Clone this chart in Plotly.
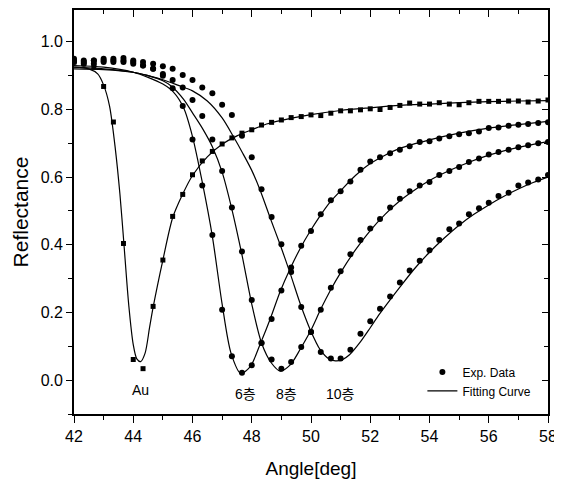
import plotly.graph_objects as go

# ---------------- data ----------------
angle_exp = [42.00, 42.33, 42.67, 43.00, 43.33, 43.67, 44.00, 44.33, 44.67, 45.00,
             45.33, 45.67, 46.00, 46.33, 46.67, 47.00, 47.33, 47.67, 48.00, 48.33,
             48.67, 49.00, 49.33, 49.67, 50.00, 50.33, 50.67, 51.00, 51.33, 51.67,
             52.00, 52.33, 52.67, 53.00, 53.33, 53.67, 54.00, 54.33, 54.67, 55.00,
             55.33, 55.67, 56.00, 56.33, 56.67, 57.00, 57.33, 57.67, 58.00]

au_exp = [0.940, 0.935, 0.925, 0.868, 0.763, 0.404, 0.061, 0.034, 0.218, 0.355,
          0.484, 0.549, 0.607, 0.648, 0.676, 0.698, 0.716, 0.730, 0.740, 0.754,
          0.762, 0.769, 0.776, 0.779, 0.784, 0.782, 0.789, 0.796, 0.796, 0.799,
          0.802, 0.800, 0.806, 0.812, 0.819, 0.816, 0.816, 0.820, 0.816, 0.814,
          0.820, 0.824, 0.824, 0.824, 0.825, 0.825, 0.822, 0.825, 0.828]

l6_exp = [0.945, 0.940, 0.945, 0.945, 0.945, 0.945, 0.940, 0.930, 0.920, 0.900,
          0.863, 0.810, 0.711, 0.575, 0.429, 0.208, 0.071, 0.022, 0.044, 0.110,
          0.181, 0.265, 0.320, 0.397, 0.441, 0.490, 0.532, 0.558, 0.587, 0.622,
          0.646, 0.659, 0.671, 0.681, 0.691, 0.704, 0.706, 0.714, 0.721, 0.727,
          0.730, 0.735, 0.745, 0.747, 0.752, 0.755, 0.757, 0.760, 0.762]

l8_exp = [0.940, 0.935, 0.935, 0.940, 0.940, 0.940, 0.935, 0.930, 0.920, 0.905,
          0.887, 0.865, 0.828, 0.781, 0.711, 0.618, 0.510, 0.380, 0.237, 0.110,
          0.061, 0.034, 0.054, 0.098, 0.142, 0.208, 0.273, 0.322, 0.372, 0.414,
          0.448, 0.476, 0.510, 0.536, 0.558, 0.575, 0.586, 0.606, 0.618, 0.630,
          0.645, 0.655, 0.667, 0.674, 0.681, 0.688, 0.694, 0.700, 0.704]

l10_exp = [0.950, 0.945, 0.945, 0.950, 0.950, 0.952, 0.945, 0.940, 0.935, 0.928,
           0.920, 0.902, 0.887, 0.865, 0.848, 0.814, 0.784, 0.722, 0.659, 0.564,
           0.482, 0.402, 0.333, 0.216, 0.142, 0.083, 0.064, 0.064, 0.090, 0.137,
           0.174, 0.211, 0.247, 0.289, 0.324, 0.353, 0.384, 0.414, 0.446, 0.463,
           0.490, 0.508, 0.524, 0.544, 0.554, 0.575, 0.584, 0.593, 0.606]

au_fit_x = [42.0, 42.5, 42.8, 43.0, 43.2, 43.4, 43.55, 43.67, 43.85, 44.0, 44.12, 44.25,
            44.4, 44.55, 44.67, 45.0, 45.33, 45.67, 46.0, 46.5, 47.0, 47.5, 48.0, 48.5,
            49.0, 50.0, 51.0, 52.0, 53.0, 54.0, 55.0, 56.0, 57.0, 58.0]
au_fit_y = [0.925, 0.920, 0.905, 0.872, 0.810, 0.680, 0.550, 0.420, 0.220, 0.105, 0.063, 0.055,
            0.080, 0.155, 0.215, 0.355, 0.480, 0.550, 0.605, 0.660, 0.697, 0.722, 0.740, 0.757,
            0.768, 0.785, 0.797, 0.805, 0.812, 0.816, 0.820, 0.823, 0.825, 0.826]

l6_fit_x = [42.0, 43.0, 44.0, 44.5, 45.0, 45.35, 45.7, 46.0, 46.33, 46.67, 47.0, 47.3,
            47.63, 47.95, 48.3, 48.62, 48.96, 49.3, 49.64, 49.97, 50.3, 50.63, 51.0, 51.5,
            52.0, 52.5, 53.0, 54.0, 55.0, 56.0, 57.0, 58.0]
l6_fit_y = [0.930, 0.925, 0.910, 0.895, 0.875, 0.852, 0.805, 0.720, 0.585, 0.425, 0.225, 0.080,
            0.020, 0.040, 0.110, 0.180, 0.262, 0.330, 0.390, 0.440, 0.485, 0.525, 0.560, 0.605,
            0.640, 0.665, 0.685, 0.710, 0.730, 0.745, 0.755, 0.765]

l8_fit_x = [42.0, 43.0, 44.0, 44.5, 45.0, 45.3, 45.7, 46.0, 46.33, 46.67, 47.0, 47.33,
            47.67, 48.0, 48.33, 48.67, 48.96, 49.3, 49.64, 50.0, 50.33, 50.67, 51.0, 51.5,
            52.0, 52.5, 53.0, 53.5, 54.0, 55.0, 56.0, 57.0, 58.0]
l8_fit_y = [0.925, 0.920, 0.910, 0.900, 0.885, 0.868, 0.830, 0.790, 0.745, 0.690, 0.615, 0.505,
            0.370, 0.225, 0.110, 0.050, 0.027, 0.045, 0.092, 0.148, 0.210, 0.268, 0.318, 0.385,
            0.442, 0.490, 0.530, 0.562, 0.590, 0.632, 0.665, 0.688, 0.705]

l10_fit_x = [42.0, 43.0, 44.0, 44.5, 45.0, 45.5, 46.0, 46.5, 47.0, 47.38, 47.7, 48.0,
             48.28, 48.62, 48.96, 49.3, 49.64, 49.97, 50.31, 50.6, 50.82, 51.05, 51.3, 51.64,
             52.0, 52.31, 52.65, 53.0, 53.5, 54.0, 54.5, 55.0, 55.5, 56.0, 56.5, 57.0, 57.5, 58.0]
l10_fit_y = [0.920, 0.918, 0.910, 0.900, 0.888, 0.872, 0.855, 0.825, 0.775, 0.720, 0.670, 0.620,
             0.562, 0.480, 0.400, 0.315, 0.225, 0.150, 0.090, 0.063, 0.057, 0.060, 0.075, 0.110,
             0.155, 0.195, 0.235, 0.275, 0.330, 0.378, 0.420, 0.458, 0.490, 0.518, 0.543, 0.565,
             0.584, 0.600]

curve_labels = ["Au", "6층", "8층", "10층"]
label_x = [44.23, 47.78, 49.18, 51.0]
label_y = [-0.03, -0.04, -0.04, -0.04]

x_ticks = [42, 44, 46, 48, 50, 52, 54, 56, 58]
y_ticks = [0.0, 0.2, 0.4, 0.6, 0.8, 1.0]

# ---------------- figure ----------------
fig = go.Figure()
FONT = "Arial, Liberation Sans, sans-serif"

fits = [(au_fit_x, au_fit_y), (l6_fit_x, l6_fit_y), (l8_fit_x, l8_fit_y), (l10_fit_x, l10_fit_y)]
for i, (fx, fy) in enumerate(fits):
    fig.add_trace(go.Scatter(
        x=fx, y=fy, mode="lines",
        line=dict(color="black", width=1.2, shape="spline", smoothing=0.8),
        name="Fitting Curve", showlegend=(i == 1), legendrank=2,
        hoverinfo="skip"))

fig.add_trace(go.Scatter(
    x=angle_exp, y=au_exp, mode="markers",
    marker=dict(symbol="square", size=5, color="black"),
    showlegend=False, name="Au"))
for i, ey in enumerate([l6_exp, l8_exp, l10_exp]):
    fig.add_trace(go.Scatter(
        x=angle_exp, y=ey, mode="markers",
        marker=dict(symbol="circle", size=6, color="black"),
        name="Exp. Data", showlegend=(i == 0), legendrank=1))

# dummy trace binding secondary (mirror) axes
fig.add_trace(go.Scatter(x=[42], y=[-0.2], xaxis="x2", yaxis="y2",
                         mode="markers", marker=dict(opacity=0), showlegend=False,
                         hoverinfo="skip"))

for t, lx, ly in zip(curve_labels, label_x, label_y):
    fig.add_annotation(x=lx, y=ly, text=t, showarrow=False,
                       font=dict(family="Arial, Noto Sans CJK KR, sans-serif", size=14, color="black"))

Y_RANGE = [-0.1, 1.094]

fig.update_layout(
    width=554, height=476,
    margin=dict(l=66, r=14, t=0, b=70),
    paper_bgcolor="white", plot_bgcolor="white",
    font=dict(family=FONT, color="black"),
    showlegend=True,
    legend=dict(x=0.735, y=0.14, xanchor="left", yanchor="top",
                bgcolor="rgba(0,0,0,0)", font=dict(size=12, family=FONT),
                tracegroupgap=0, itemsizing="trace"),
    xaxis=dict(range=[42, 58], tickvals=x_ticks, ticks="outside", ticklen=7,
               tickwidth=1.3, tickcolor="black",
               minor=dict(dtick=1, tick0=42, ticks="outside", ticklen=4, tickcolor="black"),
               showline=True, mirror=True, linecolor="black", linewidth=1.8,
               showgrid=False, zeroline=False,
               tickfont=dict(size=16, family=FONT),
               title=dict(text="Angle[deg]", font=dict(size=19, family=FONT), standoff=18)),
    yaxis=dict(range=Y_RANGE, tickvals=y_ticks, ticktext=["0.0", "0.2", "0.4", "0.6", "0.8", "1.0"],
               ticks="outside", ticklen=6, tickwidth=1.3, tickcolor="black",
               minor=dict(dtick=0.1, tick0=0, ticks="outside", ticklen=4, tickcolor="black"),
               showline=True, mirror=True, linecolor="black", linewidth=1.8,
               showgrid=False, zeroline=False,
               tickfont=dict(size=16, family=FONT),
               title=dict(text="Reflectance", font=dict(size=21, family=FONT), standoff=6)),
    xaxis2=dict(range=[42, 58], overlaying="x", side="top", tickvals=x_ticks,
                ticks="inside", ticklen=7, tickwidth=1.2, tickcolor="black",
                minor=dict(dtick=1, tick0=42, ticks="inside", ticklen=4, tickcolor="black"),
                showticklabels=False, showline=False,
                showgrid=False, zeroline=False),
    yaxis2=dict(range=Y_RANGE, overlaying="y", side="right", tickvals=y_ticks,
                ticks="inside", ticklen=6, tickwidth=1.2, tickcolor="black",
                minor=dict(dtick=0.1, tick0=0, ticks="inside", ticklen=4, tickcolor="black"),
                showticklabels=False, showline=False,
                showgrid=False, zeroline=False),
)

fig.write_html("out.html")
